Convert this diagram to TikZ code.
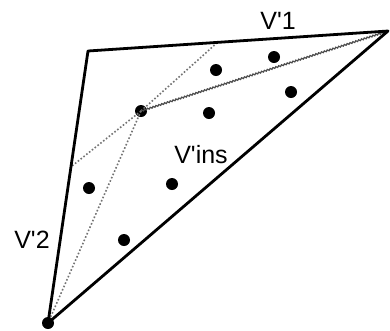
\documentclass[tikz,border=0pt]{standalone}
\usepackage{fontspec}
\setmainfont{Liberation Sans}
\usetikzlibrary{decorations.pathmorphing}
\begin{document}
\begin{tikzpicture}[x=1pt,y=-1pt,
  edge/.style={line width=2.8pt,line cap=round,line join=round},
  hair/.style={draw=black!55,line width=1.6pt,dotted},
  wave/.style={draw=black!70,line width=1.2pt,decorate,decoration={snake,amplitude=0.7pt,segment length=3pt}},
  pt/.style={circle,fill=black,inner sep=0pt,minimum size=12pt},
  lab/.style={font=\fontsize{25}{25}\selectfont,inner sep=0pt}]
\useasboundingbox (0,0) rectangle (390,330);
\coordinate (A) at (88,51);
\coordinate (B) at (388,31);
\coordinate (C) at (48,323);
\coordinate (M1) at (218,42);
\coordinate (M2) at (72,166);
\node[pt] (P) at (141,111) {};
\node[pt] (C0) at (48,323) {};
\draw[hair] (P.center) -- (M1);
\draw[hair] (P.center) -- (M2);
\draw[hair] (P.center) -- (C);
\draw[wave] (P.center) -- (B);
\draw[edge] (C) -- (A) -- (B) -- cycle;
\node[pt] (d1) at (216,70) {};
\node[pt] (d2) at (274,57) {};
\node[pt] (d3) at (209,113) {};
\node[pt] (d4) at (291,92) {};
\node[pt] (d5) at (89,188) {};
\node[pt] (d6) at (172,184) {};
\node[pt] (d7) at (124,240) {};
\node[lab] (l1) at (278,21) {V\textquotesingle 1};
\node[lab] (l2) at (32,240) {V\textquotesingle 2};
\node[lab] (l3) at (201,155) {V\textquotesingle ins};
\end{tikzpicture}
\end{document}
